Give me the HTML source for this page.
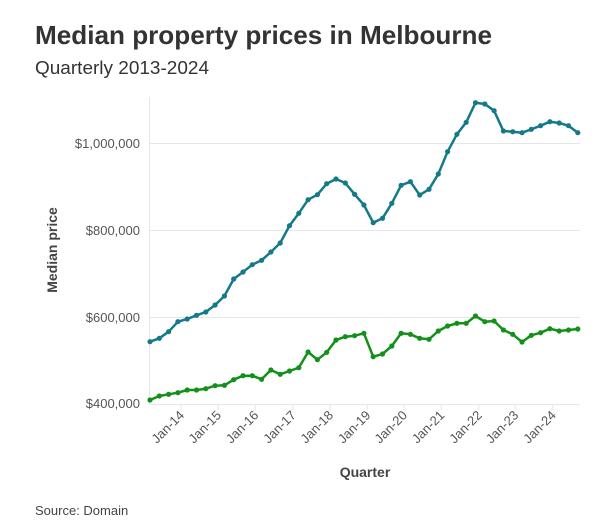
<!DOCTYPE html>
<html><head><meta charset="utf-8"><style>
html,body{margin:0;padding:0;background:#fff;}
svg{display:block;font-family:"Liberation Sans",sans-serif;}
</style></head><body>
<svg width="606" height="528" viewBox="0 0 606 528" xmlns="http://www.w3.org/2000/svg">
<text x="35" y="44" font-size="26" font-weight="bold" fill="#333" textLength="457" lengthAdjust="spacingAndGlyphs">Median property prices in Melbourne</text>
<text x="35" y="74" font-size="18" fill="#333" textLength="174" lengthAdjust="spacingAndGlyphs">Quarterly 2013-2024</text>
<g stroke="#e6e6e6" stroke-width="1">
<line x1="149.5" y1="97" x2="149.5" y2="404"/>
<line x1="149" y1="143.5" x2="580" y2="143.5"/>
<line x1="149" y1="230.5" x2="580" y2="230.5"/>
<line x1="149" y1="317.5" x2="580" y2="317.5"/>
<line x1="149" y1="404.5" x2="580" y2="404.5"/>
<g id="ticks">
<line x1="181" y1="404" x2="181" y2="410"/><line x1="218" y1="404" x2="218" y2="410"/><line x1="255.3" y1="404" x2="255.3" y2="410"/><line x1="292.7" y1="404" x2="292.7" y2="410"/><line x1="330" y1="404" x2="330" y2="410"/><line x1="367.3" y1="404" x2="367.3" y2="410"/><line x1="404" y1="404" x2="404" y2="410"/><line x1="441.3" y1="404" x2="441.3" y2="410"/><line x1="478.7" y1="404" x2="478.7" y2="410"/><line x1="515.3" y1="404" x2="515.3" y2="410"/><line x1="552.7" y1="404" x2="552.7" y2="410"/>
</g></g>
<g font-size="13" fill="#555" text-anchor="end">
<text x="140" y="148">$1,000,000</text>
<text x="140" y="235">$800,000</text>
<text x="140" y="322">$600,000</text>
<text x="140" y="408">$400,000</text>
</g>
<g font-size="13" fill="#555" text-anchor="end">
<text transform="translate(185,416) rotate(-45)">Jan-14</text>
<text transform="translate(222,416) rotate(-45)">Jan-15</text>
<text transform="translate(259.3,416) rotate(-45)">Jan-16</text>
<text transform="translate(296.7,416) rotate(-45)">Jan-17</text>
<text transform="translate(334,416) rotate(-45)">Jan-18</text>
<text transform="translate(371.3,416) rotate(-45)">Jan-19</text>
<text transform="translate(408,416) rotate(-45)">Jan-20</text>
<text transform="translate(445.3,416) rotate(-45)">Jan-21</text>
<text transform="translate(482.7,416) rotate(-45)">Jan-22</text>
<text transform="translate(519.3,416) rotate(-45)">Jan-23</text>
<text transform="translate(556.7,416) rotate(-45)">Jan-24</text>
</g>
<text x="365" y="477" font-size="14" font-weight="bold" fill="#444" text-anchor="middle">Quarter</text>
<text transform="translate(57,250) rotate(-90)" font-size="14" font-weight="bold" fill="#444" text-anchor="middle">Median price</text>
<text x="35" y="515" font-size="13" fill="#444">Source: Domain</text>
<g id="plot"></g>
</svg>
<script>
var T=[341.7,338.3,331.7,321.7,319,315.3,312,305,296,279,272,264.7,260.3,252,243,225.7,213.3,199.7,194.7,183.7,179,183,194.3,205,222.7,218.3,203.3,185.3,181.7,195,189.3,174,151.7,134.3,122.3,102.7,104,110.7,131,131.7,132.7,129.3,125.7,121.7,123,125.7,132.7];
var G=[400,396,394.3,392.7,390,390,388.7,385.7,385.3,379.7,375.7,375.7,379.3,370,374.3,371,367.7,352,359.7,352.3,340,336.7,335.7,333.3,356.7,354,346,333.3,334.3,338.3,339.3,331,326,323.3,323.3,316,321.7,321,330,334.3,342,335.3,332.7,328.7,331,330,329];
var ns="http://www.w3.org/2000/svg",p=document.getElementById("plot");
function draw(a,c){var pts=a.map(function(y,i){return (150+i*9.3).toFixed(1)+","+y}).join(" ");
var l=document.createElementNS(ns,"polyline");l.setAttribute("points",pts);l.setAttribute("fill","none");l.setAttribute("stroke",c);l.setAttribute("stroke-width","2.5");l.setAttribute("stroke-linejoin","round");p.appendChild(l);
a.forEach(function(y,i){var ci=document.createElementNS(ns,"circle");ci.setAttribute("cx",150+i*9.3);ci.setAttribute("cy",y);ci.setAttribute("r","2.6");ci.setAttribute("fill",c);p.appendChild(ci);});}
draw(T,"#157a88");draw(G,"#12901a");
</script>
</body></html>
